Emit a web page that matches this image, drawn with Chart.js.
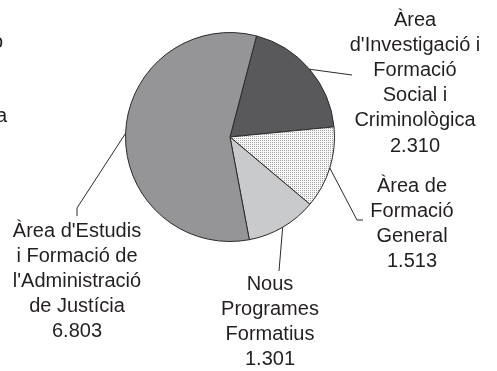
<!DOCTYPE html>
<html>
<head>
<meta charset="utf-8">
<script src="https://cdn.jsdelivr.net/npm/chart.js@4.4.0/dist/chart.umd.min.js"></script>
<style>
  body { margin: 0; background: #fff; }
  #wrap { width: 497px; height: 371px; }
</style>
</head>
<body>
<div id="wrap"><canvas id="myChart" width="497" height="371"></canvas></div>
<script>
'use strict';
// data, clockwise from the top
let categories = [
    ["Àrea", "d'Investigació i", "Formació", "Social i", "Criminològica"],
    ["Àrea de", "Formació", "General"],
    ["Nous", "Programes", "Formatius"],
    ["Àrea d'Estudis", "i Formació de", "l'Administració", "de Justícia"]
];
let values = [2310, 1513, 1301, 6803];

// label placement: text centre x, first line y, leader bend points
let labelLayout = [
    { x: 415, y: 20, leader: [[352, 75]] },
    { x: 412, y: 186, leader: [[357, 220], [363, 220]] },
    { x: 270, y: 284, leader: [[279, 271]] },
    { x: 77, y: 231, leader: [[77, 208], [77, 216]] }
];
let lineGap = 25.2;

function fmt(n) {
    return String(n).replace(/\B(?=(\d{3})+(?!\d))/g, '.');
}

function dots() {
    let c = document.createElement('canvas');
    c.width = 2;
    c.height = 2;
    let g = c.getContext('2d');
    g.fillStyle = '#f8f8f8';
    g.fillRect(0, 0, 2, 2);
    g.fillStyle = '#a4a4a4';
    g.fillRect(0, 0, 1, 1);
    return g.createPattern(c, 'repeat');
}

let labelPlugin = {
    id: 'pieLabels',
    afterDatasetsDraw(chart) {
        let ctx = chart.ctx;
        let arcs = chart.getDatasetMeta(0).data;
        ctx.save();
        ctx.strokeStyle = '#2a2a2a';
        ctx.lineWidth = 1;
        for (let i = 0; i < arcs.length; i++) {
            let a = arcs[i];
            let mid = (a.startAngle + a.endAngle) / 2;
            let px = a.x + a.outerRadius * Math.cos(mid);
            let py = a.y + a.outerRadius * Math.sin(mid);
            ctx.beginPath();
            ctx.moveTo(px, py);
            labelLayout[i].leader.forEach(function (p) { ctx.lineTo(p[0], p[1]); });
            ctx.stroke();
        }
        ctx.fillStyle = '#231f20';
        ctx.font = '20px "Liberation Sans", Arial, sans-serif';
        ctx.textAlign = 'center';
        ctx.textBaseline = 'middle';
        for (let i = 0; i < categories.length; i++) {
            let lines = categories[i].concat([fmt(values[i])]);
            for (let j = 0; j < lines.length; j++) {
                ctx.fillText(lines[j], labelLayout[i].x, labelLayout[i].y + j * lineGap);
            }
        }
        // cut-off text at the left edge of the original
        ctx.textAlign = 'right';
        ctx.textBaseline = 'alphabetic';
        ctx.fillText('o', 3, 48);
        ctx.fillText('a', 7, 122);
        ctx.restore();
    }
};

let ctx = document.getElementById('myChart').getContext('2d');
let myChart = new Chart(ctx, {
    type: 'pie',
    data: {
        labels: categories,
        datasets: [{
            data: values,
            backgroundColor: ['#59595b', dots(), '#c9cacc', '#959597'],
            borderColor: '#2a2a2a',
            borderWidth: 1
        }]
    },
    options: {
        responsive: false,
        animation: false,
        rotation: 14.7,
        layout: { padding: { left: 125, right: 162, top: 32, bottom: 129 } },
        plugins: {
            legend: { display: false },
            tooltip: { enabled: false }
        }
    },
    plugins: [labelPlugin]
});
</script>
</body>
</html>
